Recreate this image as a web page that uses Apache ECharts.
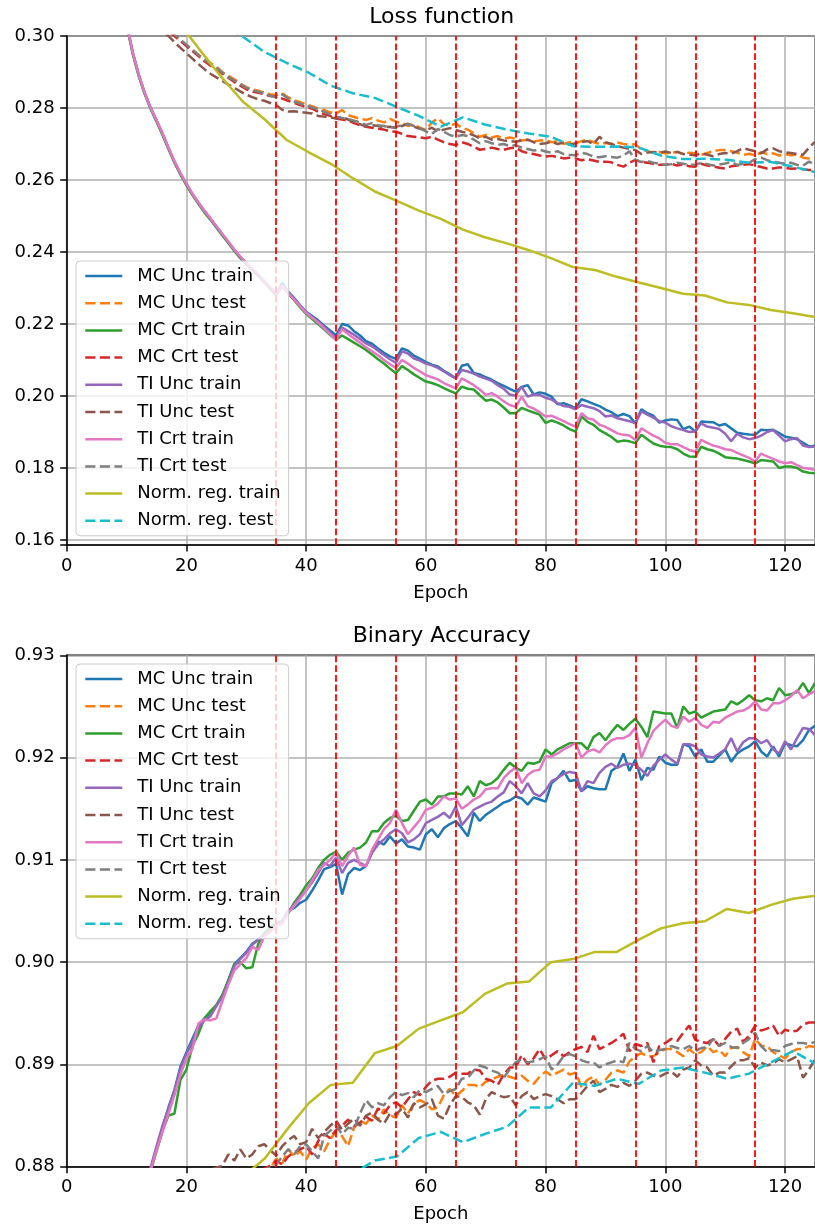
<!DOCTYPE html>
<html>
<head>
<meta charset="utf-8">
<script src="https://cdn.jsdelivr.net/npm/echarts@6/dist/echarts.min.js"></script>
<style>html,body{margin:0;padding:0;background:#fff}#c{width:815px;height:1226px}</style>
</head>
<body>
<div id="c"></div>
<script>
// ---------------- data ----------------
const seriesNames = ['MC Unc train','MC Unc test','MC Crt train','MC Crt test','TI Unc train','TI Unc test','TI Crt train','TI Crt test','Norm. reg. train','Norm. reg. test'];
const epochs = Array.from({length:125},(_,i)=>i+1);
const normEpochs = [0,3.68,7.35,11.03,14.71,18.38,22.06,25.74,29.41,33.09,36.76,40.44,44.12,47.79,51.47,55.15,58.82,62.5,66.18,69.85,73.53,77.21,80.88,84.56,88.24,91.91,95.59,99.26,102.94,106.62,110.29,113.97,117.65,121.32,125];
const boundaries = [35,45,55,65,75,85,95,105,115];
const xTicks = [0,20,40,60,80,100,120];
const lossTicks = [0.16,0.18,0.20,0.22,0.24,0.26,0.28,0.30];
const accTicks = [0.88,0.89,0.90,0.91,0.92,0.93];

const lossMcUncTrain = [0.5200,0.4500,0.4100,0.3850,0.3650,0.3500,0.3370,0.3250,0.3140,0.3035,
0.2955,0.2893,0.2842,0.2800,0.2765,0.2728,0.2688,0.2650,0.2617,0.2588,
0.2560,0.2536,0.2513,0.2492,0.2470,0.2448,0.2427,0.2405,0.2385,0.2368,
0.2352,0.2336,0.2318,0.2300,0.2282,0.2314,0.2290,0.2272,0.2252,0.2234,
0.2222,0.2210,0.2195,0.2182,0.2168,0.2200,0.2196,0.2180,0.2168,0.2152,
0.2145,0.2132,0.2120,0.2110,0.2103,0.2132,0.2126,0.2112,0.2104,0.2094,
0.2087,0.2082,0.2070,0.2060,0.2049,0.2084,0.2088,0.2064,0.2060,0.2052,
0.2045,0.2036,0.2028,0.2020,0.2012,0.2025,0.2030,0.2004,0.2010,0.2006,
0.1998,0.1977,0.1980,0.1974,0.1966,0.1991,0.1985,0.1978,0.1972,0.1962,
0.1955,0.1944,0.1950,0.1944,0.1924,0.1963,0.1952,0.1945,0.1926,0.1932,
0.1935,0.1933,0.1908,0.1915,0.1901,0.1929,0.1928,0.1927,0.1918,0.1922,
0.1910,0.1898,0.1895,0.1893,0.1892,0.1906,0.1905,0.1906,0.1897,0.1887,
0.1884,0.1880,0.1870,0.1860,0.1862];
const lossMcUncTest = [0.4000,0.3700,0.3550,0.3450,0.3380,0.3320,0.3270,0.3230,0.3190,0.3160,
0.3130,0.3100,0.3080,0.3062,0.3046,0.3030,0.3016,0.3002,0.2988,0.2975,
0.2962,0.2948,0.2936,0.2925,0.2914,0.2900,0.2890,0.2880,0.2868,0.2858,
0.2852,0.2848,0.2843,0.2838,0.2836,0.2841,0.2830,0.2822,0.2816,0.2810,
0.2805,0.2798,0.2795,0.2788,0.2785,0.2794,0.2780,0.2775,0.2770,0.2767,
0.2772,0.2765,0.2760,0.2770,0.2762,0.2758,0.2750,0.2755,0.2745,0.2739,
0.2760,0.2771,0.2755,0.2750,0.2757,0.2745,0.2740,0.2730,0.2720,0.2725,
0.2718,0.2722,0.2715,0.2718,0.2715,0.2710,0.2712,0.2706,0.2710,0.2711,
0.2705,0.2708,0.2700,0.2705,0.2702,0.2708,0.2712,0.2705,0.2700,0.2703,
0.2700,0.2704,0.2700,0.2698,0.2699,0.2685,0.2680,0.2676,0.2678,0.2674,
0.2676,0.2678,0.2672,0.2676,0.2674,0.2670,0.2675,0.2680,0.2683,0.2683,
0.2680,0.2676,0.2670,0.2673,0.2668,0.2677,0.2672,0.2674,0.2668,0.2672,
0.2669,0.2670,0.2662,0.2660,0.2661];
const lossMcCrtTrain = [0.5180,0.4480,0.4090,0.3845,0.3648,0.3498,0.3368,0.3248,0.3138,0.3033,
0.2952,0.2890,0.2840,0.2798,0.2762,0.2725,0.2686,0.2648,0.2615,0.2585,
0.2558,0.2534,0.2510,0.2490,0.2468,0.2446,0.2425,0.2403,0.2383,0.2366,
0.2350,0.2334,0.2316,0.2298,0.2280,0.2305,0.2284,0.2266,0.2246,0.2228,
0.2214,0.2200,0.2185,0.2170,0.2156,0.2168,0.2158,0.2148,0.2138,0.2128,
0.2115,0.2102,0.2090,0.2076,0.2063,0.2083,0.2072,0.2060,0.2050,0.2040,
0.2036,0.2030,0.2022,0.2014,0.2007,0.2026,0.2020,0.2018,0.2002,0.1987,
0.1990,0.1982,0.1968,0.1952,0.1952,0.1967,0.1960,0.1954,0.1948,0.1925,
0.1932,0.1926,0.1918,0.1908,0.1901,0.1943,0.1928,0.1920,0.1905,0.1896,
0.1886,0.1873,0.1876,0.1874,0.1869,0.1892,0.1880,0.1868,0.1862,0.1859,
0.1858,0.1852,0.1840,0.1832,0.1831,0.1859,0.1852,0.1848,0.1840,0.1830,
0.1828,0.1826,0.1822,0.1818,0.1813,0.1822,0.1820,0.1818,0.1800,0.1804,
0.1804,0.1800,0.1790,0.1787,0.1785];
const lossMcCrtTest = [0.4000,0.3700,0.3550,0.3450,0.3380,0.3320,0.3270,0.3230,0.3190,0.3160,
0.3130,0.3100,0.3080,0.3060,0.3044,0.3028,0.3014,0.3000,0.2986,0.2972,
0.2958,0.2944,0.2930,0.2918,0.2908,0.2895,0.2884,0.2872,0.2862,0.2852,
0.2846,0.2842,0.2838,0.2833,0.2831,0.2826,0.2820,0.2814,0.2808,0.2803,
0.2798,0.2790,0.2783,0.2778,0.2771,0.2768,0.2765,0.2758,0.2752,0.2748,
0.2745,0.2742,0.2740,0.2735,0.2734,0.2728,0.2722,0.2720,0.2718,0.2716,
0.2720,0.2712,0.2705,0.2700,0.2697,0.2705,0.2700,0.2692,0.2684,0.2686,
0.2690,0.2686,0.2684,0.2688,0.2690,0.2680,0.2675,0.2672,0.2668,0.2665,
0.2667,0.2664,0.2660,0.2662,0.2660,0.2655,0.2658,0.2654,0.2650,0.2651,
0.2649,0.2642,0.2637,0.2648,0.2656,0.2650,0.2648,0.2645,0.2642,0.2642,
0.2645,0.2640,0.2644,0.2638,0.2637,0.2645,0.2640,0.2638,0.2634,0.2632,
0.2638,0.2640,0.2642,0.2644,0.2640,0.2636,0.2632,0.2632,0.2635,0.2634,
0.2631,0.2632,0.2630,0.2628,0.2628];
const lossTiUncTrain = [0.5220,0.4510,0.4110,0.3855,0.3652,0.3502,0.3372,0.3252,0.3142,0.3037,
0.2957,0.2895,0.2844,0.2802,0.2766,0.2729,0.2689,0.2651,0.2618,0.2589,
0.2561,0.2537,0.2514,0.2493,0.2471,0.2449,0.2428,0.2406,0.2386,0.2369,
0.2353,0.2337,0.2319,0.2301,0.2283,0.2308,0.2287,0.2269,0.2250,0.2232,
0.2219,0.2207,0.2192,0.2176,0.2160,0.2190,0.2180,0.2170,0.2158,0.2146,
0.2138,0.2126,0.2114,0.2102,0.2092,0.2124,0.2118,0.2104,0.2098,0.2090,
0.2085,0.2078,0.2068,0.2058,0.2049,0.2072,0.2068,0.2062,0.2054,0.2048,
0.2042,0.2030,0.2020,0.2004,0.2001,0.2026,0.1998,0.2004,0.2003,0.1995,
0.1990,0.1980,0.1972,0.1970,0.1963,0.1975,0.1970,0.1966,0.1958,0.1943,
0.1946,0.1938,0.1934,0.1930,0.1924,0.1957,0.1948,0.1940,0.1930,0.1926,
0.1916,0.1910,0.1905,0.1900,0.1901,0.1924,0.1915,0.1912,0.1908,0.1895,
0.1874,0.1895,0.1885,0.1880,0.1883,0.1890,0.1900,0.1905,0.1890,0.1874,
0.1880,0.1883,0.1862,0.1858,0.1860];
const lossTiUncTest = [0.4000,0.3700,0.3550,0.3450,0.3380,0.3320,0.3270,0.3220,0.3180,0.3145,
0.3115,0.3090,0.3068,0.3048,0.3030,0.3012,0.3000,0.2983,0.2967,0.2952,
0.2937,0.2922,0.2908,0.2895,0.2885,0.2875,0.2865,0.2856,0.2846,0.2837,
0.2830,0.2824,0.2820,0.2814,0.2808,0.2795,0.2790,0.2791,0.2789,0.2787,
0.2785,0.2778,0.2776,0.2774,0.2771,0.2775,0.2768,0.2760,0.2755,0.2748,
0.2752,0.2750,0.2746,0.2748,0.2744,0.2750,0.2756,0.2748,0.2742,0.2739,
0.2745,0.2735,0.2740,0.2744,0.2739,0.2734,0.2730,0.2724,0.2716,0.2720,
0.2712,0.2714,0.2710,0.2708,0.2706,0.2710,0.2712,0.2705,0.2700,0.2702,
0.2706,0.2700,0.2704,0.2698,0.2702,0.2705,0.2708,0.2700,0.2720,0.2705,
0.2700,0.2694,0.2690,0.2686,0.2683,0.2672,0.2676,0.2678,0.2676,0.2679,
0.2675,0.2678,0.2672,0.2670,0.2669,0.2674,0.2670,0.2666,0.2672,0.2675,
0.2673,0.2680,0.2688,0.2684,0.2680,0.2674,0.2685,0.2688,0.2680,0.2677,
0.2675,0.2672,0.2670,0.2690,0.2706];
const lossTiCrtTrain = [0.5190,0.4490,0.4095,0.3848,0.3650,0.3500,0.3370,0.3250,0.3140,0.3036,
0.2956,0.2894,0.2843,0.2801,0.2766,0.2730,0.2690,0.2652,0.2619,0.2590,
0.2562,0.2538,0.2515,0.2494,0.2472,0.2450,0.2429,0.2407,0.2387,0.2370,
0.2354,0.2338,0.2320,0.2302,0.2284,0.2306,0.2286,0.2268,0.2249,0.2231,
0.2217,0.2204,0.2188,0.2172,0.2156,0.2185,0.2172,0.2160,0.2148,0.2135,
0.2124,0.2113,0.2100,0.2088,0.2078,0.2100,0.2090,0.2078,0.2068,0.2058,
0.2052,0.2046,0.2036,0.2028,0.2021,0.2049,0.2040,0.2030,0.2018,0.2003,
0.2008,0.1998,0.1985,0.1975,0.1970,0.1998,0.1972,0.1965,0.1955,0.1943,
0.1945,0.1938,0.1930,0.1922,0.1915,0.1952,0.1938,0.1934,0.1920,0.1914,
0.1905,0.1896,0.1892,0.1890,0.1878,0.1910,0.1900,0.1890,0.1882,0.1870,
0.1866,0.1866,0.1858,0.1850,0.1845,0.1878,0.1870,0.1862,0.1858,0.1852,
0.1850,0.1842,0.1835,0.1828,0.1818,0.1840,0.1832,0.1825,0.1818,0.1813,
0.1816,0.1808,0.1800,0.1798,0.1795];
const lossTiCrtTest = [0.4000,0.3700,0.3550,0.3450,0.3380,0.3320,0.3270,0.3230,0.3190,0.3160,
0.3130,0.3100,0.3080,0.3062,0.3047,0.3032,0.3018,0.3005,0.2990,0.2976,
0.2962,0.2947,0.2934,0.2922,0.2912,0.2898,0.2886,0.2876,0.2866,0.2856,
0.2850,0.2845,0.2840,0.2834,0.2830,0.2838,0.2826,0.2818,0.2812,0.2806,
0.2802,0.2796,0.2790,0.2782,0.2776,0.2772,0.2770,0.2765,0.2760,0.2753,
0.2758,0.2752,0.2750,0.2745,0.2748,0.2752,0.2756,0.2750,0.2744,0.2735,
0.2728,0.2742,0.2734,0.2725,0.2720,0.2725,0.2722,0.2712,0.2702,0.2708,
0.2702,0.2698,0.2700,0.2694,0.2697,0.2690,0.2686,0.2682,0.2684,0.2679,
0.2676,0.2680,0.2672,0.2670,0.2669,0.2676,0.2672,0.2665,0.2663,0.2666,
0.2664,0.2662,0.2668,0.2680,0.2656,0.2650,0.2653,0.2648,0.2645,0.2642,
0.2644,0.2648,0.2645,0.2642,0.2642,0.2648,0.2644,0.2640,0.2643,0.2646,
0.2650,0.2642,0.2645,0.2648,0.2658,0.2662,0.2655,0.2651,0.2648,0.2645,
0.2648,0.2642,0.2640,0.2651,0.2642];
const lossNormTrain = [0.4500,0.4000,0.3600,0.3350,0.3180,0.3045,0.2965,0.2888,0.2818,0.2768,0.2711,0.2677,0.2645,0.2605,0.2568,0.2542,0.2515,0.2492,0.2462,0.2441,0.2424,0.2405,0.2383,0.2358,0.2350,0.2331,0.2315,0.2300,0.2284,0.2279,0.2260,0.2253,0.2239,0.2230,0.2219];
const lossNormTest = [0.4200,0.3800,0.3550,0.3380,0.3260,0.3170,0.3100,0.3035,0.2998,0.2955,0.2925,0.2898,0.2862,0.2841,0.2828,0.2803,0.2778,0.2748,0.2774,0.2754,0.2740,0.2729,0.2720,0.2694,0.2692,0.2693,0.2690,0.2668,0.2658,0.2659,0.2656,0.2648,0.2650,0.2637,0.2622];

const accMcUncTrain = [0.8000,0.8300,0.8450,0.8550,0.8610,0.8660,0.8695,0.8722,0.8743,0.8760,
0.8773,0.8783,0.8790,0.8797,0.8818,0.8838,0.8858,0.8875,0.8898,0.8912,
0.8925,0.8938,0.8945,0.8948,0.8958,0.8967,0.8982,0.8998,0.9004,0.9010,
0.9018,0.9022,0.9027,0.9032,0.9036,0.9040,0.9050,0.9053,0.9058,0.9061,
0.9070,0.9080,0.9091,0.9093,0.9096,0.9066,0.9086,0.9092,0.9090,0.9094,
0.9107,0.9118,0.9115,0.9123,0.9116,0.9120,0.9113,0.9112,0.9110,0.9125,
0.9130,0.9122,0.9131,0.9135,0.9138,0.9131,0.9123,0.9146,0.9138,0.9144,
0.9148,0.9152,0.9156,0.9158,0.9162,0.9160,0.9154,0.9161,0.9159,0.9157,
0.9175,0.9180,0.9187,0.9177,0.9178,0.9167,0.9172,0.9170,0.9169,0.9169,
0.9187,0.9191,0.9204,0.9187,0.9198,0.9178,0.9190,0.9188,0.9201,0.9195,
0.9193,0.9193,0.9213,0.9211,0.9201,0.9208,0.9196,0.9196,0.9202,0.9208,
0.9196,0.9204,0.9208,0.9211,0.9216,0.9206,0.9201,0.9211,0.9201,0.9214,
0.9212,0.9211,0.9217,0.9227,0.9231];
const accMcUncTest = [0.8200,0.8450,0.8560,0.8620,0.8660,0.8690,0.8710,0.8725,0.8738,0.8748,
0.8756,0.8762,0.8767,0.8771,0.8774,0.8776,0.8778,0.8779,0.8780,0.8781,
0.8782,0.8782,0.8783,0.8783,0.8784,0.8784,0.8785,0.8785,0.8785,0.8785,
0.8788,0.8792,0.8795,0.8798,0.8808,0.8803,0.8817,0.8810,0.8815,0.8807,
0.8818,0.8822,0.8815,0.8827,0.8834,0.8830,0.8820,0.8838,0.8845,0.8842,
0.8850,0.8846,0.8856,0.8850,0.8848,0.8860,0.8852,0.8862,0.8865,0.8862,
0.8856,0.8858,0.8870,0.8876,0.8869,0.8874,0.8880,0.8880,0.8878,0.8883,
0.8885,0.8888,0.8890,0.8888,0.8886,0.8889,0.8884,0.8881,0.8888,0.8893,
0.8889,0.8892,0.8895,0.8890,0.8892,0.8878,0.8885,0.8888,0.8880,0.8885,
0.8892,0.8894,0.8892,0.8903,0.8908,0.8911,0.8908,0.8908,0.8912,0.8915,
0.8915,0.8912,0.8908,0.8915,0.8910,0.8912,0.8918,0.8912,0.8914,0.8908,
0.8916,0.8917,0.8912,0.8908,0.8925,0.8918,0.8918,0.8912,0.8909,0.8906,
0.8912,0.8915,0.8915,0.8918,0.8917];
const accMcCrtTrain = [0.7980,0.8290,0.8445,0.8545,0.8605,0.8655,0.8690,0.8718,0.8740,0.8757,
0.8770,0.8780,0.8788,0.8795,0.8815,0.8835,0.8850,0.8852,0.8885,0.8895,
0.8918,0.8930,0.8945,0.8952,0.8958,0.8968,0.8982,0.8998,0.9000,0.8994,
0.8995,0.9018,0.9028,0.9034,0.9038,0.9040,0.9048,0.9058,0.9066,0.9075,
0.9082,0.9092,0.9100,0.9105,0.9108,0.9100,0.9107,0.9110,0.9112,0.9117,
0.9128,0.9128,0.9136,0.9141,0.9143,0.9138,0.9139,0.9148,0.9157,0.9159,
0.9154,0.9162,0.9162,0.9165,0.9165,0.9164,0.9172,0.9162,0.9177,0.9173,
0.9175,0.9180,0.9188,0.9195,0.9190,0.9187,0.9195,0.9194,0.9196,0.9208,
0.9203,0.9208,0.9211,0.9214,0.9214,0.9214,0.9208,0.9220,0.9224,0.9217,
0.9225,0.9232,0.9227,0.9233,0.9238,0.9230,0.9220,0.9245,0.9244,0.9243,
0.9243,0.9229,0.9250,0.9243,0.9245,0.9239,0.9242,0.9245,0.9246,0.9247,
0.9255,0.9252,0.9256,0.9261,0.9256,0.9255,0.9258,0.9256,0.9268,0.9261,
0.9262,0.9264,0.9273,0.9263,0.9273];
const accMcCrtTest = [0.8200,0.8450,0.8560,0.8620,0.8660,0.8690,0.8710,0.8725,0.8738,0.8748,
0.8756,0.8762,0.8767,0.8771,0.8774,0.8776,0.8778,0.8780,0.8781,0.8782,
0.8783,0.8784,0.8785,0.8786,0.8787,0.8787,0.8788,0.8789,0.8789,0.8790,
0.8793,0.8796,0.8798,0.8801,0.8806,0.8802,0.8810,0.8814,0.8817,0.8820,
0.8812,0.8825,0.8832,0.8828,0.8836,0.8840,0.8846,0.8840,0.8843,0.8849,
0.8845,0.8857,0.8852,0.8860,0.8863,0.8858,0.8866,0.8873,0.8870,0.8878,
0.8884,0.8886,0.8886,0.8888,0.8892,0.8891,0.8891,0.8895,0.8894,0.8886,
0.8884,0.8880,0.8890,0.8897,0.8897,0.8909,0.8900,0.8906,0.8915,0.8905,
0.8909,0.8913,0.8908,0.8912,0.8915,0.8917,0.8912,0.8928,0.8915,0.8918,
0.8921,0.8925,0.8930,0.8913,0.8920,0.8918,0.8921,0.8902,0.8918,0.8921,
0.8925,0.8923,0.8931,0.8938,0.8924,0.8922,0.8921,0.8925,0.8918,0.8925,
0.8932,0.8935,0.8922,0.8928,0.8938,0.8933,0.8935,0.8938,0.8928,0.8934,
0.8932,0.8933,0.8939,0.8941,0.8941];
const accTiUncTrain = [0.8010,0.8305,0.8452,0.8552,0.8612,0.8662,0.8697,0.8724,0.8745,0.8762,
0.8775,0.8785,0.8792,0.8799,0.8820,0.8840,0.8857,0.8874,0.8896,0.8910,
0.8922,0.8936,0.8943,0.8947,0.8957,0.8966,0.8980,0.8996,0.9003,0.9009,
0.9017,0.9022,0.9026,0.9031,0.9036,0.9040,0.9050,0.9056,0.9064,0.9070,
0.9078,0.9087,0.9097,0.9094,0.9102,0.9087,0.9097,0.9100,0.9097,0.9094,
0.9107,0.9115,0.9120,0.9126,0.9130,0.9126,0.9117,0.9120,0.9125,0.9136,
0.9139,0.9142,0.9146,0.9141,0.9152,0.9134,0.9141,0.9149,0.9152,0.9155,
0.9157,0.9162,0.9166,0.9177,0.9172,0.9165,0.9175,0.9165,0.9162,0.9168,
0.9177,0.9180,0.9184,0.9186,0.9185,0.9167,0.9177,0.9175,0.9185,0.9191,
0.9194,0.9190,0.9193,0.9194,0.9193,0.9188,0.9182,0.9192,0.9198,0.9203,
0.9198,0.9194,0.9213,0.9213,0.9211,0.9203,0.9201,0.9200,0.9204,0.9208,
0.9219,0.9206,0.9215,0.9219,0.9219,0.9214,0.9217,0.9208,0.9204,0.9216,
0.9208,0.9219,0.9229,0.9228,0.9222];
const accTiUncTest = [0.8200,0.8450,0.8560,0.8620,0.8660,0.8690,0.8710,0.8725,0.8740,0.8752,
0.8760,0.8767,0.8772,0.8776,0.8780,0.8783,0.8786,0.8788,0.8790,0.8790,
0.8792,0.8794,0.8796,0.8797,0.8799,0.8801,0.8812,0.8806,0.8817,0.8808,
0.8812,0.8820,0.8822,0.8816,0.8811,0.8820,0.8826,0.8830,0.8822,0.8824,
0.8837,0.8828,0.8834,0.8840,0.8845,0.8836,0.8842,0.8847,0.8840,0.8850,
0.8853,0.8846,0.8842,0.8852,0.8851,0.8857,0.8848,0.8862,0.8858,0.8861,
0.8866,0.8850,0.8847,0.8860,0.8869,0.8868,0.8863,0.8860,0.8851,0.8866,
0.8873,0.8870,0.8868,0.8869,0.8860,0.8869,0.8873,0.8866,0.8869,0.8871,
0.8869,0.8866,0.8862,0.8866,0.8866,0.8872,0.8879,0.8884,0.8873,0.8876,
0.8880,0.8878,0.8882,0.8879,0.8884,0.8891,0.8892,0.8889,0.8888,0.8891,
0.8893,0.8888,0.8895,0.8897,0.8904,0.8899,0.8897,0.8889,0.8892,0.8892,
0.8898,0.8904,0.8904,0.8906,0.8897,0.8902,0.8899,0.8901,0.8905,0.8902,
0.8905,0.8908,0.8887,0.8895,0.8905];
const accTiCrtTrain = [0.7990,0.8295,0.8448,0.8548,0.8608,0.8658,0.8693,0.8720,0.8741,0.8758,
0.8771,0.8781,0.8789,0.8796,0.8816,0.8834,0.8852,0.8870,0.8890,0.8906,
0.8915,0.8940,0.8944,0.8943,0.8945,0.8962,0.8978,0.8992,0.8998,0.9004,
0.9015,0.9012,0.9025,0.9030,0.9035,0.9038,0.9048,0.9055,0.9062,0.9070,
0.9080,0.9090,0.9095,0.9100,0.9107,0.9094,0.9104,0.9112,0.9095,0.9094,
0.9110,0.9120,0.9130,0.9136,0.9149,0.9136,0.9125,0.9132,0.9139,0.9149,
0.9151,0.9155,0.9162,0.9159,0.9160,0.9150,0.9154,0.9159,0.9162,0.9169,
0.9170,0.9170,0.9180,0.9186,0.9190,0.9175,0.9183,0.9187,0.9188,0.9201,
0.9201,0.9204,0.9208,0.9211,0.9214,0.9200,0.9206,0.9208,0.9205,0.9212,
0.9217,0.9219,0.9219,0.9222,0.9229,0.9200,0.9214,0.9226,0.9232,0.9237,
0.9231,0.9229,0.9240,0.9235,0.9239,0.9232,0.9229,0.9235,0.9234,0.9239,
0.9242,0.9245,0.9246,0.9249,0.9255,0.9247,0.9246,0.9253,0.9253,0.9256,
0.9260,0.9266,0.9258,0.9262,0.9265];
const accTiCrtTest = [0.8200,0.8450,0.8560,0.8620,0.8660,0.8690,0.8710,0.8725,0.8738,0.8748,
0.8756,0.8762,0.8767,0.8771,0.8774,0.8776,0.8778,0.8779,0.8780,0.8781,
0.8782,0.8783,0.8784,0.8785,0.8785,0.8786,0.8786,0.8787,0.8787,0.8788,
0.8791,0.8794,0.8797,0.8799,0.8802,0.8810,0.8817,0.8812,0.8820,0.8822,
0.8815,0.8808,0.8830,0.8835,0.8840,0.8832,0.8838,0.8837,0.8852,0.8865,
0.8858,0.8862,0.8860,0.8868,0.8873,0.8870,0.8872,0.8868,0.8875,0.8873,
0.8876,0.8879,0.8871,0.8874,0.8876,0.8886,0.8887,0.8894,0.8899,0.8897,
0.8894,0.8892,0.8887,0.8895,0.8902,0.8905,0.8902,0.8903,0.8905,0.8908,
0.8895,0.8900,0.8908,0.8910,0.8908,0.8904,0.8902,0.8902,0.8897,0.8900,
0.8902,0.8904,0.8902,0.8921,0.8915,0.8913,0.8918,0.8912,0.8914,0.8915,
0.8918,0.8916,0.8915,0.8918,0.8913,0.8916,0.8917,0.8925,0.8918,0.8921,
0.8917,0.8916,0.8921,0.8925,0.8931,0.8918,0.8912,0.8914,0.8913,0.8918,
0.8920,0.8921,0.8921,0.8920,0.8922];
const accNormTrain = [0.7000,0.8000,0.8350,0.8520,0.8620,0.8680,0.8720,0.8750,0.8790,0.8808,0.8836,0.8862,0.8880,0.8882,0.8911,0.8918,0.8935,0.8943,0.8951,0.8969,0.8979,0.8981,0.9000,0.9003,0.9010,0.9010,0.9022,0.9033,0.9038,0.9040,0.9052,0.9048,0.9056,0.9062,0.9065];
const accNormTest = [0.7000,0.8000,0.8300,0.8480,0.8580,0.8640,0.8680,0.8710,0.8735,0.8755,0.8770,0.8778,0.8785,0.8793,0.8806,0.8810,0.8828,0.8834,0.8824,0.8832,0.8839,0.8858,0.8858,0.8882,0.8879,0.8886,0.8881,0.8894,0.8897,0.8892,0.8886,0.8891,0.8902,0.8913,0.8901];

// ---------------- styles ----------------
const colors = ['#1f77b4','#ff7f0e','#2ca02c','#d62728','#9467bd','#8c564b','#e377c2','#7f7f7f','#bcbd22','#17becf'];
const lossSets = [lossMcUncTrain,lossMcUncTest,lossMcCrtTrain,lossMcCrtTest,lossTiUncTrain,lossTiUncTest,lossTiCrtTrain,lossTiCrtTest,lossNormTrain,lossNormTest];
const accSets = [accMcUncTrain,accMcUncTest,accMcCrtTrain,accMcCrtTest,accTiUncTrain,accTiUncTest,accTiCrtTrain,accTiCrtTest,accNormTrain,accNormTest];
const FONT = 'DejaVu Sans';
const DASH = [10.2, 4.4];

function pairs(xs, ys){ return ys.map((y,i)=>[xs[i], y]); }

const series = [];
[lossSets, accSets].forEach((sets, g) => {
  sets.forEach((ys, i) => {
    const xs = i >= 8 ? normEpochs : epochs;
    series.push({
      name: seriesNames[i], type: 'line', xAxisIndex: g, yAxisIndex: g,
      data: pairs(xs, ys), symbol: 'none', showSymbol: false, silent: true,
      clip: true, z: 2,
      lineStyle: { color: colors[i], width: 2.5, type: (i % 2 === 1) ? DASH : 'solid' },
      itemStyle: { color: colors[i] },
      emphasis: { disabled: true }
    });
  });
  series.push({
    name: 'boundaries' + g, type: 'line', xAxisIndex: g, yAxisIndex: g, data: [], silent: true,
    markLine: {
      silent: true, symbol: ['none','none'], z: 5, animation: false,
      label: { show: false },
      lineStyle: { color: '#ff0000', width: 1.8, type: [6.8, 2.9] },
      emphasis: { disabled: true },
      data: boundaries.map(b => ({ xAxis: b }))
    }
  });
});

function xAxisCfg(g){
  return {
    gridIndex: g, type: 'value', min: 0, max: 125, interval: 20,
    name: 'Epoch', nameLocation: 'middle', nameGap: 39,
    nameTextStyle: { fontFamily: FONT, fontSize: 18, color: '#000' },
    axisLine: { show: true, onZero: false, lineStyle: { color: '#000', width: 1.5 } },
    axisTick: { show: true, length: 6.5, lineStyle: { color: '#000', width: 1.5 } },
    axisLabel: { color: '#000', fontFamily: FONT, fontSize: 18, margin: 12, showMaxLabel: false,
      formatter: v => xTicks.includes(Math.round(v)) && Math.abs(v - Math.round(v)) < 1e-6 ? String(Math.round(v)) : '' },
    splitLine: { show: true, lineStyle: { color: '#b0b0b0', width: 1.5 } }
  };
}
function yAxisCfg(g, min, max, ticks, extra){
  return Object.assign({
    gridIndex: g, type: 'value', min: min, max: max,
    axisLine: { show: true, onZero: false, lineStyle: { color: '#000', width: 1.5 } },
    axisTick: { show: true, length: 6.5, lineStyle: { color: '#000', width: 1.5 } },
    axisLabel: { color: '#000', fontFamily: FONT, fontSize: 18, margin: 12,
      formatter: v => ticks.some(t => Math.abs(t - v) < 1e-6) ? v.toFixed(2) : '' },
    splitLine: { show: true, lineStyle: { color: '#b0b0b0', width: 1.5 } }
  }, extra);
}
function legendCfg(top){
  return {
    data: seriesNames, orient: 'vertical', left: 76, top: top, z: 10,
    itemWidth: 37, itemHeight: 14, itemGap: 9.2, selectedMode: false,
    padding: [6, 8, 6, 8],
    backgroundColor: 'rgba(255,255,255,0.8)', borderColor: '#cccccc', borderWidth: 1, borderRadius: 4,
    textStyle: { fontFamily: FONT, fontSize: 18, color: '#000', lineHeight: 18, padding: [0,0,0,10] },
    itemStyle: { opacity: 0, borderWidth: 0 },
    lineStyle: { width: 2.5 }
  };
}

const option = {
  animation: false,
  backgroundColor: '#ffffff',
  title: [
    { text: 'Loss function', left: 441.7, top: 6, padding: 0, textAlign: 'center',
      textStyle: { fontFamily: FONT, fontSize: 22, fontWeight: 'normal', color: '#000' } },
    { text: 'Binary Accuracy', left: 441.7, top: 625.5, padding: 0, textAlign: 'center',
      textStyle: { fontFamily: FONT, fontSize: 22, fontWeight: 'normal', color: '#000' } }
  ],
  grid: [
    { left: 66.7, top: 36, width: 750, height: 509, show: true, borderColor: '#000', borderWidth: 1.5, containLabel: false },
    { left: 66.7, top: 655.3, width: 750, height: 511.4, show: true, borderColor: '#000', borderWidth: 1.5, containLabel: false }
  ],
  xAxis: [xAxisCfg(0), xAxisCfg(1)],
  yAxis: [
    yAxisCfg(0, 0.1586, 0.30, lossTicks, { splitNumber: 7 }),
    yAxisCfg(1, 0.88, 0.93, accTicks, { interval: 0.01 })
  ],
  legend: [legendCfg(261), legendCfg(664)],
  series: series
};

const chart = echarts.init(document.getElementById('c'), null, { renderer: 'canvas' });
chart.setOption(option);
</script>
</body>
</html>
